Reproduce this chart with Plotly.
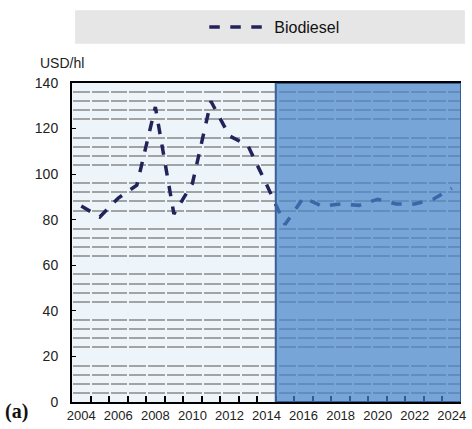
import plotly.graph_objects as go

years = list(range(2004, 2025))
biodiesel = [86.0, 81.2, 89.5, 95.2, 129.5, 82.5, 95.9, 132.0, 116.8, 112.5, 95.5,
             77.9, 89.7, 85.9, 86.9, 86.3, 89.0, 86.9, 86.9, 89.0, 93.8]
xtick_labels = [str(y) for y in range(2004, 2025, 2)]
projection_start = 2014.5

PLOT_W = 394
cat_px = PLOT_W / len(years)
grid_dash = f"0px,1px,{cat_px - 2:.3f}px,1px"

fig = go.Figure()
fig.add_trace(go.Scatter(
    x=years, y=biodiesel, mode="lines", name="Biodiesel",
    line=dict(color="#23235c", width=3.5, dash="dash"),
))

fig.update_layout(
    width=472, height=429,
    margin=dict(l=72, r=6, t=83, b=22),
    paper_bgcolor="white",
    plot_bgcolor="#eef5fa",
    font=dict(family="Liberation Sans, Arial", size=14, color="#222"),
    showlegend=True,
    legend=dict(orientation="h", x=0.52, xanchor="center", y=1.175, yanchor="middle",
                bgcolor="rgba(0,0,0,0)", font=dict(size=16, color="#111"),
                itemwidth=60),
    shapes=[
        dict(type="rect", xref="paper", yref="paper", x0=0.008, x1=1.01, y0=1.123, y1=1.228,
             fillcolor="#e6e6e6", line=dict(width=0), layer="below"),
        dict(type="rect", xref="x", yref="y", x0=projection_start, x1=2024.5, y0=0, y1=140,
             fillcolor="rgb(70,131,200)", opacity=0.7, line=dict(width=0), layer="above"),
        dict(type="rect", xref="x", yref="y", x0=projection_start, x1=2024.5, y0=0, y1=140,
             fillcolor="rgba(0,0,0,0)", line=dict(color="#3a5f98", width=2), layer="above"),
    ],
    annotations=[
        dict(text="USD/hl", xref="paper", yref="paper", x=-0.087, y=1.063, xanchor="left",
             yanchor="middle", showarrow=False, font=dict(size=14, color="#222")),
        dict(text="<b>(a)</b>", xref="paper", yref="paper", x=-0.178, y=-0.03, xanchor="left",
             yanchor="middle", showarrow=False,
             font=dict(family="Liberation Serif, Times New Roman", size=20, color="#111")),
    ],
)

fig.update_xaxes(
    range=[2003.5, 2024.5],
    tickvals=list(range(2004, 2025, 2)), ticktext=xtick_labels,
    ticks="", showgrid=False,
    showline=True, linecolor="black", linewidth=2, mirror=True,
    tickfont=dict(size=13, color="#222"),
    minor=dict(tickvals=[y + 0.5 for y in range(2004, 2024)], ticks="inside", ticklen=6,
               tickcolor="black", tickwidth=1.5, showgrid=False),
    zeroline=False,
)
fig.update_yaxes(
    range=[0, 140], dtick=20,
    ticks="inside", ticklen=4, tickcolor="black",
    showline=True, linecolor="black", linewidth=2,
    showgrid=False,
    minor=dict(dtick=4, showgrid=True, gridcolor="#a3a3a3", gridwidth=2, ticks="",
               griddash=grid_dash),
    zeroline=False,
    ticklabelstandoff=9,
    tickfont=dict(size=14, color="#222"),
)

fig.write_html("out.html", config={"displayModeBar": False},
               post_script="document.body.style.margin='0';")
